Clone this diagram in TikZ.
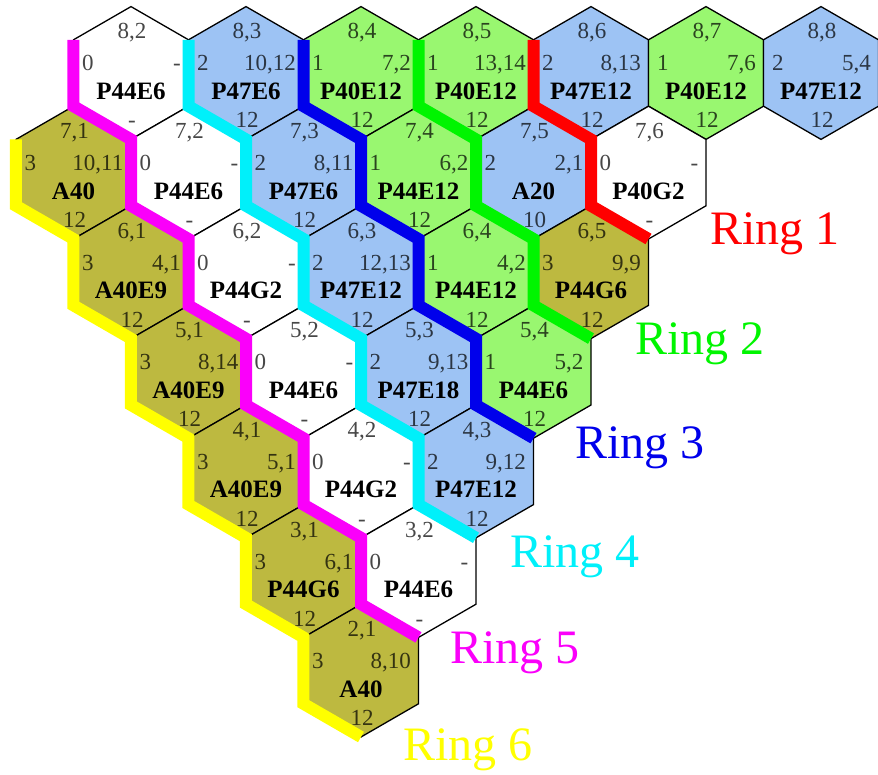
\documentclass[tikz,border=0pt]{standalone}
\usepackage{fontspec}
\setmainfont{Liberation Serif}
\definecolor{cellblue}{RGB}{157,195,244}
\definecolor{cellgreen}{RGB}{153,247,112}
\definecolor{cellolive}{RGB}{189,185,64}
\definecolor{ringred}{RGB}{255,0,0}
\definecolor{ringgreen}{RGB}{0,245,0}
\definecolor{ringblue}{RGB}{0,0,235}
\definecolor{ringcyan}{RGB}{0,240,250}
\definecolor{ringmagenta}{RGB}{250,0,250}
\definecolor{ringyellow}{RGB}{255,255,0}
\newcommand{\hexR}{66.4}
\tikzset{
  cell/.style={draw=black, line width=1.3pt, line join=miter},
  lbl/.style={font=\fontsize{23}{25}\selectfont, text=black, text opacity=0.72, inner sep=0pt},
  cellname/.style={font=\fontsize{25}{27}\selectfont\bfseries, text=black, inner sep=0pt, anchor=base},
  ring/.style={line width=12pt, line join=miter, line cap=butt, draw=#1},
  ringlabel/.style={font=\fontsize{48}{50}\selectfont, text=#1, inner sep=0pt, anchor=base west},
}
\begin{document}
\begin{tikzpicture}[x=1pt,y=1pt]
  \useasboundingbox (0,0) rectangle (878,-775);
  % hex cells: row/col/fill/type/left/right/bottom
  \foreach \row/\col/\clr/\nm/\lft/\rgt/\btm in {
    8/2/white/P44E6/0/-/-,
    8/3/cellblue/P47E6/2/{10,12}/12,
    8/4/cellgreen/P40E12/1/{7,2}/12,
    8/5/cellgreen/P40E12/1/{13,14}/12,
    8/6/cellblue/P47E12/2/{8,13}/12,
    8/7/cellgreen/P40E12/1/{7,6}/12,
    8/8/cellblue/P47E12/2/{5,4}/12,
    7/1/cellolive/A40/3/{10,11}/12,
    7/2/white/P44E6/0/-/-,
    7/3/cellblue/P47E6/2/{8,11}/12,
    7/4/cellgreen/P44E12/1/{6,2}/12,
    7/5/cellblue/A20/2/{2,1}/10,
    7/6/white/P40G2/0/-/-,
    6/1/cellolive/A40E9/3/{4,1}/12,
    6/2/white/P44G2/0/-/-,
    6/3/cellblue/P47E12/2/{12,13}/12,
    6/4/cellgreen/P44E12/1/{4,2}/12,
    6/5/cellolive/P44G6/3/{9,9}/12,
    5/1/cellolive/A40E9/3/{8,14}/12,
    5/2/white/P44E6/0/-/-,
    5/3/cellblue/P47E18/2/{9,13}/12,
    5/4/cellgreen/P44E6/1/{5,2}/12,
    4/1/cellolive/A40E9/3/{5,1}/12,
    4/2/white/P44G2/0/-/-,
    4/3/cellblue/P47E12/2/{9,12}/12,
    3/1/cellolive/P44G6/3/{6,1}/12,
    3/2/white/P44E6/0/-/-,
    2/1/cellolive/A40/3/{8,10}/12}{
    \pgfmathsetmacro\cx{131+57.5*(4-\row+2*\col)}
    \pgfmathsetmacro\cy{99.6*\row-869.8}
    \coordinate (h\row\col) at (\cx,\cy);
    \filldraw[cell,fill=\clr] (h\row\col) +(90:\hexR) coordinate (h\row\col-t)
      -- +(30:\hexR) coordinate (h\row\col-ur) -- +(-30:\hexR) coordinate (h\row\col-lr)
      -- +(-90:\hexR) coordinate (h\row\col-b) -- +(-150:\hexR) coordinate (h\row\col-ll)
      -- +(150:\hexR) coordinate (h\row\col-ul) -- cycle;
    \node[lbl,anchor=base] (h\row\col-pos) at (\cx+1,\cy+34) {\row,\col};
    \node[lbl,anchor=base west] (h\row\col-in) at (\cx-49,\cy+2) {\lft};
    \node[lbl,anchor=base east] (h\row\col-out) at (\cx+50,\cy+2) {\rgt};
    \node[cellname] (h\row\col-name) at (\cx,\cy-26.5) {\nm};
    \node[lbl,anchor=base] (h\row\col-end) at (\cx+1,\cy-55) {\btm};
  }
  % ring boundaries
  \draw[ring=ringred] (h85-ur) -- (h85-lr) -- (h75-ur) -- (h75-lr) -- (h65-ur);
  \draw[ring=ringgreen] (h84-ur) -- (h84-lr) -- (h74-ur) -- (h74-lr) -- (h64-ur) -- (h64-lr) -- (h54-ur);
  \draw[ring=ringblue] (h83-ur) -- (h83-lr) -- (h73-ur) -- (h73-lr) -- (h63-ur) -- (h63-lr) -- (h53-ur) -- (h53-lr) -- (h43-ur);
  \draw[ring=ringcyan] (h82-ur) -- (h82-lr) -- (h72-ur) -- (h72-lr) -- (h62-ur) -- (h62-lr) -- (h52-ur) -- (h52-lr) -- (h42-ur) -- (h42-lr) -- (h32-ur);
  \draw[ring=ringmagenta] (h82-ul) -- (h82-ll) -- (h71-ur) -- (h71-lr) -- (h61-ur) -- (h61-lr) -- (h51-ur) -- (h51-lr) -- (h41-ur) -- (h41-lr) -- (h31-ur) -- (h31-lr) -- (h21-ur);
  \draw[ring=ringyellow] (h71-ul) -- (h71-ll) -- (h61-ul) -- (h61-ll) -- (h51-ul) -- (h51-ll) -- (h41-ul) -- (h41-ll) -- (h31-ul) -- (h31-ll) -- (h21-ul) -- (h21-ll) -- (h21-b);
  % ring names
  \node[ringlabel=ringred] (ring1) at (710,-245) {Ring 1};
  \node[ringlabel=ringgreen] (ring2) at (635,-355) {Ring 2};
  \node[ringlabel=ringblue] (ring3) at (575,-458) {Ring 3};
  \node[ringlabel=ringcyan] (ring4) at (510,-567) {Ring 4};
  \node[ringlabel=ringmagenta] (ring5) at (450,-663) {Ring 5};
  \node[ringlabel=ringyellow] (ring6) at (403,-760) {Ring 6};
\end{tikzpicture}
\end{document}
